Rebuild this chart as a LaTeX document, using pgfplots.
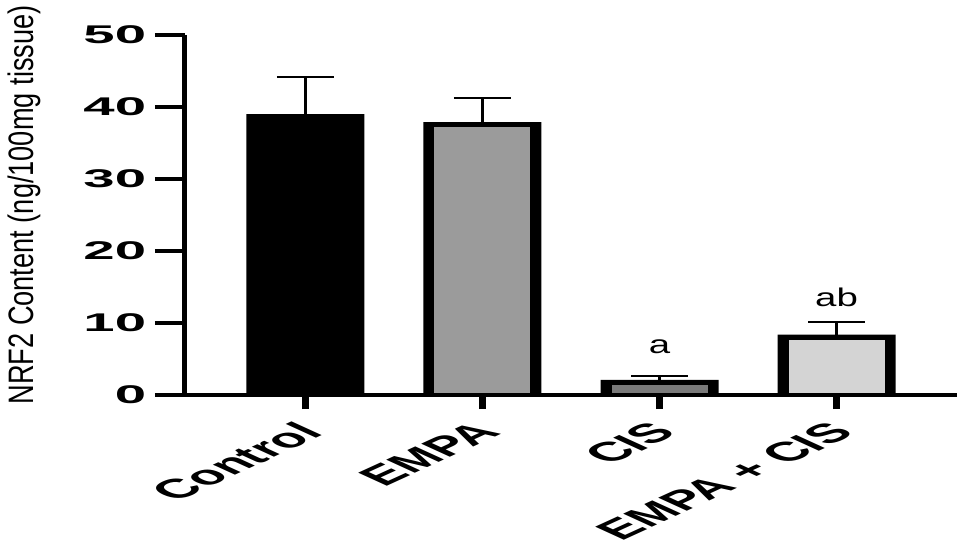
\documentclass[border=0pt]{standalone}
\usepackage{fontspec}
\setmainfont{Liberation Sans}
\usepackage{pgfplots}
\pgfplotsset{compat=1.18}
\usepackage{graphicx}
\definecolor{cA}{HTML}{000000}
\definecolor{cB}{HTML}{9B9B9B}
\definecolor{cC}{HTML}{7A7A7A}
\definecolor{cD}{HTML}{D4D4D4}
\newcommand\yl[1]{\scalebox{2.2}[1]{\bfseries #1}}
\newcommand\xl[1]{\scalebox{2.3}[1.05]{\rotatebox{45}{\bfseries #1}}}
\begin{document}
\begin{tikzpicture}
\begin{axis}[
  name=ax,
  scale only axis,
  width=386bp, height=180bp,
  xmin=-0.68, xmax=3.68,
  ymin=0, ymax=50,
  axis x line*=bottom,
  axis y line*=left,
  clip=false,
  axis on top,
  font=\fontsize{12.8bp}{15bp}\selectfont,
  x axis line style={line width=1.8bp, shorten <=-1.25bp},
  y axis line style={line width=2.5bp},
  ytick={0,10,20,30,40,50},
  yticklabels={\yl{0},\yl{10},\yl{20},\yl{30},\yl{40},\yl{50}},
  xtick={0,1,2,3},
  xticklabels={\xl{Control},\xl{EMPA},\xl{CIS},\xl{EMPA + CIS}},
  tick align=outside,
  ytick style={line width=2bp, /pgfplots/major tick length=15bp, black},
  xtick style={line width=3.5bp, /pgfplots/major tick length=7bp, black},
  yticklabel style={inner sep=0pt, xshift=-15bp},
  xticklabel style={anchor=north east, inner sep=0pt, xshift=10bp, yshift=-8.5bp},
  ylabel={\scalebox{1.3}[1]{\rotatebox{90}{NRF2 Content (ng/100mg tissue)}}},
  ylabel style={rotate=-90, at={(rel axis cs:-0.2085,0.528)}, anchor=center, inner sep=0pt, font=\fontsize{13.6bp}{16bp}\selectfont},
]
% outer (border) bars with error bars
\addplot[ybar, bar width=59bp, bar shift=0pt, fill=black, draw=none,
  error bars/.cd, y dir=plus, y explicit,
  error mark=|, error mark options={line width=1bp, mark size=14.25bp, black},
  error bar style={line width=1.5bp, black}]
  coordinates {(0,39.0) +- (0,5.1) (1,37.9) +- (0,3.3) (2,2.1) +- (0,0.5) (3,8.4) +- (0,1.8)};
% inner fills
\addplot[ybar, bar width=48bp, bar shift=0pt, fill=cA, draw=none] coordinates {(0,38.3)};
\addplot[ybar, bar width=48bp, bar shift=0pt, fill=cB, draw=none] coordinates {(1,37.2)};
\addplot[ybar, bar width=48bp, bar shift=0pt, fill=cC, draw=none] coordinates {(2,1.4)};
\addplot[ybar, bar width=48bp, bar shift=0pt, fill=cD, draw=none] coordinates {(3,7.7)};
\node at (axis cs:2,6.7) {\scalebox{1.5}[1]{a}};
\node at (axis cs:3,13.5) {\scalebox{1.5}[1]{ab}};
\end{axis}
\pgfresetboundingbox
\path[use as bounding box] ([shift={(-92.5bp,-77.5bp)}]ax.south west) rectangle ++(483.5bp,275bp);
\end{tikzpicture}
\end{document}
